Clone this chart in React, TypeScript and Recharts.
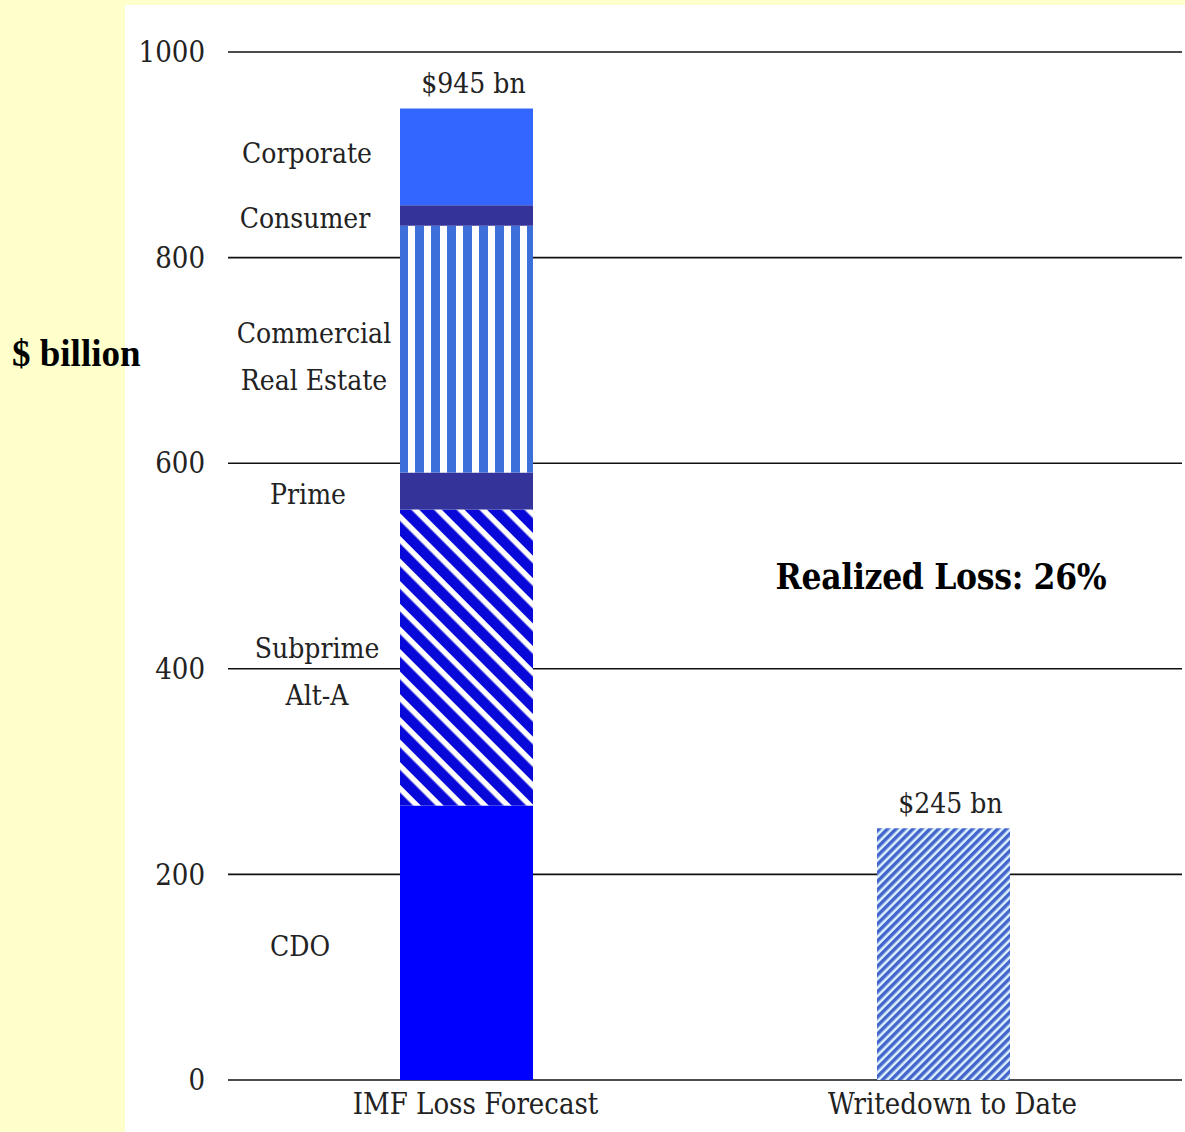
import React from 'react';
import { BarChart, Bar, XAxis, YAxis, CartesianGrid, LabelList } from 'recharts';

// categories
const categories = ['IMF Loss Forecast', 'Writedown to Date'];

// stacked segments of the forecast bar ($ bn), bottom to top
const cdo = [267, 0];
const subprime = [288, 0];
const prime = [36, 0];
const commercialRE = [240, 0];
const consumer = [20, 0];
const corporate = [94, 0];
// writedowns so far
const writedown = [0, 245];

const totalLabels = ['$945 bn', '$245 bn'];
const yTicks = [0, 200, 400, 600, 800, 1000];

const segmentNames: Record<string, string[]> = {
  cdo: ['CDO'],
  subprime: ['Subprime', 'Alt-A'],
  prime: ['Prime'],
  commercialRE: ['Commercial', 'Real Estate'],
  consumer: ['Consumer'],
  corporate: ['Corporate'],
};

// nudge of each side label from its segment's middle (px)
const labelNudge: Record<string, [number, number]> = {
  cdo: [-12, 4],
  subprime: [5, 15],
  prime: [-4, 4],
  commercialRE: [2, 8],
  consumer: [-7, 3],
  corporate: [-5, -3],
};

const data = categories.map((name, i) => ({
  name,
  cdo: cdo[i],
  subprime: subprime[i],
  prime: prime[i],
  commercialRE: commercialRE[i],
  consumer: consumer[i],
  corporate: corporate[i],
  writedown: writedown[i],
}));

const FONT = '"DejaVu Serif Condensed", "DejaVu Serif", serif';

const segmentLabel = (key: string) => (props: any) => {
  const { x, y, height } = props;
  if (!height) return null;
  const lines = segmentNames[key];
  const [nx, ny] = labelNudge[key];
  const cy = y + height / 2 + ny;
  const gap = 47;
  return (
    <g>
      {lines.map((line, i) => (
        <text
          key={line}
          x={x - 88 + nx}
          y={cy + (i - (lines.length - 1) / 2) * gap}
          textAnchor="middle"
          dominantBaseline="central"
          fontFamily={FONT}
          fontSize={28}
          fill="#222"
        >
          {line}
        </text>
      ))}
    </g>
  );
};

const totalLabel = (text: string) => (props: any) => {
  const { x, y, width, height } = props;
  if (!height) return null;
  return (
    <text
      x={x + width / 2 + 7}
      y={y - 25}
      textAnchor="middle"
      dominantBaseline="central"
      fontFamily={FONT}
      fontSize={28}
      fill="#222"
    >
      {text}
    </text>
  );
};

export default function App() {
  return (
    <div style={{ position: 'absolute', left: 0, top: 0, width: 1185, height: 1132, background: '#FFFFCC', overflow: 'hidden' }}>
      <svg width={0} height={0} style={{ position: 'absolute' }}>
        <defs>
          <pattern id="vstripe" patternUnits="userSpaceOnUse" x={399} y={0} width={16} height={20}>
            <rect x={0} y={0} width={16} height={20} fill="#ffffff" />
            <rect x={0} y={0} width={9} height={20} fill="#3D6FDB" />
          </pattern>
          <pattern id="dstripe" patternUnits="userSpaceOnUse" width={16} height={16} patternTransform="rotate(-45)">
            <rect x={0} y={0} width={16} height={16} fill="#ffffff" />
            <rect x={0} y={0} width={10.5} height={16} fill="#0808D8" />
          </pattern>
          <pattern id="wstripe" patternUnits="userSpaceOnUse" width={6} height={6} patternTransform="rotate(45)">
            <rect x={0} y={0} width={6} height={6} fill="#DDF2FF" />
            <rect x={0} y={0} width={3.5} height={6} fill="#4466CC" />
          </pattern>
        </defs>
      </svg>
      <div style={{ position: 'absolute', left: 125, top: 5, width: 1060, height: 1127, background: '#ffffff' }} />
      <div
        style={{
          position: 'absolute',
          left: 12,
          top: 332,
          fontFamily: '"Liberation Serif", serif',
          fontWeight: 'bold',
          fontSize: 37,
          color: '#000',
          whiteSpace: 'nowrap',
        }}
      >
        $ billion
      </div>
      <div style={{ position: 'absolute', left: 0, top: 0 }}>
        <BarChart width={1185} height={1132} data={data} margin={{ top: 52, right: 3, bottom: 0, left: 0 }}>
          <CartesianGrid vertical={false} stroke="#111" strokeWidth={1.6} />
          <XAxis
            dataKey="name"
            axisLine={false}
            tickLine={false}
            tickSize={0}
            tickMargin={13}
            height={52}
            tick={{ fontFamily: FONT, fontSize: 29, fill: '#222', dx: 9 }}
          />
          <YAxis
            domain={[0, 1000]}
            ticks={yTicks}
            axisLine={false}
            tickLine={false}
            tickSize={0}
            tickMargin={23}
            width={228}
            tick={{ fontFamily: FONT, fontSize: 29, fill: '#222' }}
          />
          <Bar dataKey="cdo" stackId="a" fill="#0000FF" barSize={133} isAnimationActive={false}>
            <LabelList content={segmentLabel('cdo')} />
          </Bar>
          <Bar dataKey="subprime" stackId="a" fill="url(#dstripe)" barSize={133} isAnimationActive={false}>
            <LabelList content={segmentLabel('subprime')} />
          </Bar>
          <Bar dataKey="prime" stackId="a" fill="#333399" barSize={133} isAnimationActive={false}>
            <LabelList content={segmentLabel('prime')} />
          </Bar>
          <Bar dataKey="commercialRE" stackId="a" fill="url(#vstripe)" barSize={133} isAnimationActive={false}>
            <LabelList content={segmentLabel('commercialRE')} />
          </Bar>
          <Bar dataKey="consumer" stackId="a" fill="#333399" barSize={133} isAnimationActive={false}>
            <LabelList content={segmentLabel('consumer')} />
          </Bar>
          <Bar dataKey="corporate" stackId="a" fill="#3366FF" barSize={133} isAnimationActive={false}>
            <LabelList content={segmentLabel('corporate')} />
            <LabelList content={totalLabel(totalLabels[0])} />
          </Bar>
          <Bar dataKey="writedown" stackId="a" fill="url(#wstripe)" barSize={133} isAnimationActive={false}>
            <LabelList content={totalLabel(totalLabels[1])} />
          </Bar>
        </BarChart>
      </div>
      <div
        style={{
          position: 'absolute',
          left: 941,
          top: 576,
          transform: 'translate(-50%, -50%)',
          fontFamily: FONT,
          fontWeight: 'bold',
          fontSize: 35,
          letterSpacing: -0.3,
          color: '#000',
          whiteSpace: 'nowrap',
        }}
      >
        Realized Loss: 26%
      </div>
    </div>
  );
}
